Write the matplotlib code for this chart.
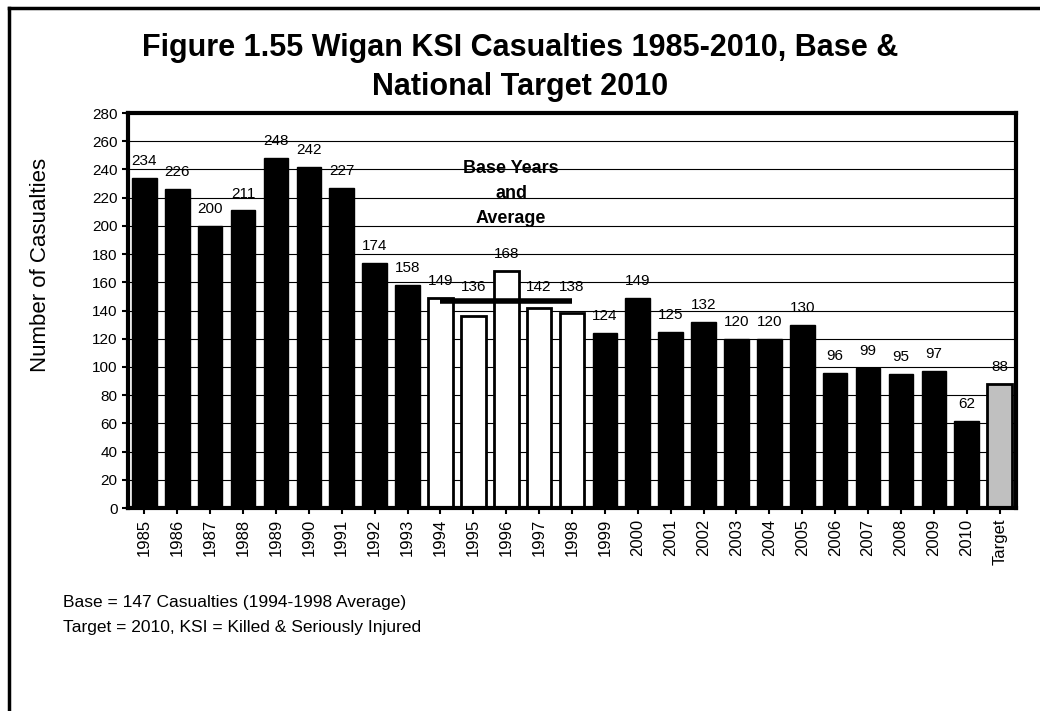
import matplotlib
matplotlib.use("Agg")
import matplotlib.pyplot as plt
from matplotlib.lines import Line2D
import numpy as np

plt.rcParams["font.family"] = ["Liberation Sans", "DejaVu Sans"]

# ── Data ──────────────────────────────────────────────────────────────────────
categories = ["1985", "1986", "1987", "1988", "1989", "1990", "1991", "1992",
              "1993", "1994", "1995", "1996", "1997", "1998", "1999", "2000",
              "2001", "2002", "2003", "2004", "2005", "2006", "2007", "2008",
              "2009", "2010", "Target"]
casualties = [234, 226, 200, 211, 248, 242, 227, 174, 158, 149, 136, 168, 142,
              138, 124, 149, 125, 132, 120, 120, 130, 96, 99, 95, 97, 62, 88]
base_years = ["1994", "1995", "1996", "1997", "1998"]
base_average = 147

# ── Figure ────────────────────────────────────────────────────────────────────
fig = plt.figure(figsize=(10.4, 7.11), dpi=100)
ax = fig.add_axes([0.123, 0.2855, 0.854, 0.5555])

x = np.arange(len(categories))
face = []
for c in categories:
    if c in base_years:
        face.append("white")
    elif c == "Target":
        face.append("#C0C0C0")
    else:
        face.append("black")
edge_w = [2.0 if f != "black" else 1.0 for f in face]

ax.bar(x, casualties, width=0.75, color=face, edgecolor="black",
       linewidth=edge_w, zorder=2)

# value labels (base-year labels sit above the average line)
for xi, v, c in zip(x, casualties, categories):
    y_lab = v + 7
    if c in ("1995", "1997", "1998"):
        y_lab = 152
    ax.text(xi, y_lab, str(v), ha="center", va="bottom", fontsize=11, zorder=4)

# base average line across 1994-1998
i0 = categories.index(base_years[0])
i1 = categories.index(base_years[-1])
ax.plot([i0, i1], [base_average, base_average], color="black", linewidth=4,
        solid_capstyle="butt", zorder=3)
ax.text((i0 + i1) / 2 + 0.15, 223, "Base Years\nand\nAverage", ha="center", va="center",
        fontsize=13, fontweight="bold", linespacing=1.65, zorder=4)

ax.set_xlim(-0.5, len(categories) - 0.5)
ax.set_ylim(0, 280)
ax.set_yticks(np.arange(0, 281, 20))
ax.set_xticks(x)
ax.set_xticklabels(categories, rotation=90, fontsize=12)
ax.tick_params(axis="y", labelsize=11, length=4, width=1.5, direction="out")
ax.tick_params(axis="x", length=4, width=1.5, direction="out")
ax.grid(axis="y", color="black", linewidth=0.8, zorder=0)
ax.set_axisbelow(True)
for s in ax.spines.values():
    s.set_linewidth(3)
ax.set_ylabel("Number of Casualties", fontsize=16)
ax.yaxis.set_label_coords(-0.087, 0.615)

fig.text(0.5, 0.905, "Figure 1.55 Wigan KSI Casualties 1985-2010, Base &\nNational Target 2010",
         ha="center", va="center", fontsize=22, fontweight="bold", linespacing=1.4)

fig.text(0.061, 0.152, "Base = 147 Casualties (1994-1998 Average)", fontsize=12.5, va="center")
fig.text(0.061, 0.117, "Target = 2010, KSI = Killed & Seriously Injured", fontsize=12.5, va="center")

# outer frame (left & top edges only visible)
fig.add_artist(Line2D([0.0087, 0.0087], [0, 0.989], transform=fig.transFigure,
                      color="black", linewidth=2.5))
fig.add_artist(Line2D([0.0087, 1.0], [0.989, 0.989], transform=fig.transFigure,
                      color="black", linewidth=2.5))

fig.savefig("out.png", dpi=100)
